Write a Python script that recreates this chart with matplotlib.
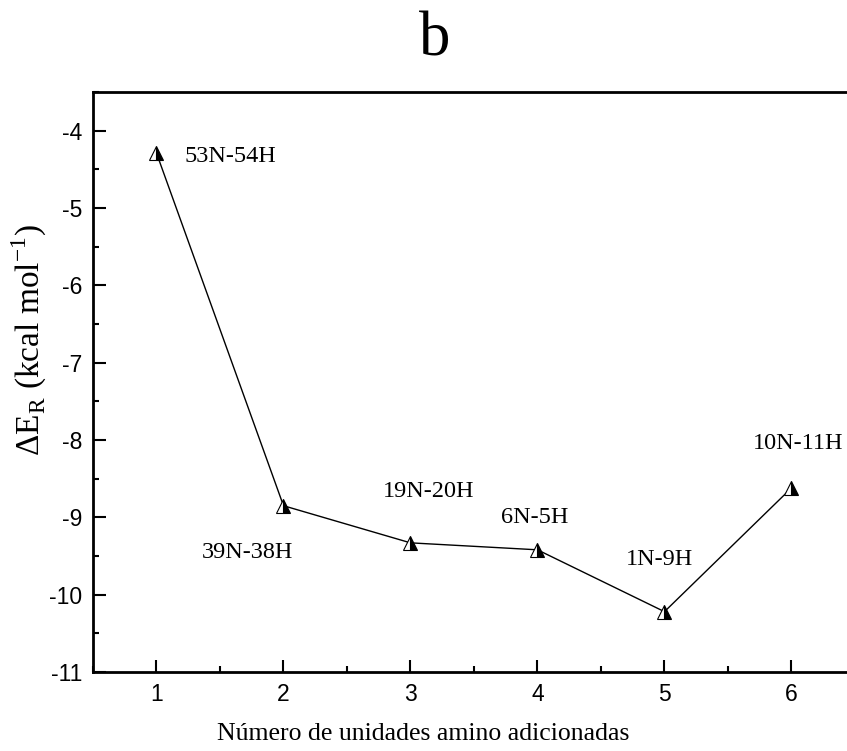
import matplotlib
matplotlib.use("Agg")
import matplotlib.pyplot as plt
from matplotlib.ticker import MultipleLocator

# Data
units = [1, 2, 3, 4, 5, 6]
energy = [-4.29, -8.85, -9.33, -9.42, -10.22, -8.62]
labels = ["53N-54H", "39N-38H", "19N-20H", "6N-5H", "1N-9H", "10N-11H"]
label_x = [1.58, 1.72, 3.14, 3.98, 4.96, 6.05]
label_y = [-4.34, -9.45, -8.66, -9.00, -9.55, -8.04]

plt.rcParams['mathtext.fontset'] = 'custom'
plt.rcParams['mathtext.rm'] = 'Liberation Serif'
plt.rcParams['axes.unicode_minus'] = False

fig = plt.figure(figsize=(8.47, 7.51), dpi=100)
ax = fig.add_axes([0.1098, 0.1052, 0.8996, 0.7723])

ax.plot(units, energy, color='black', lw=1.0, marker='^', markersize=10,
        fillstyle='right', markerfacecolor='black', markerfacecoloralt='white',
        markeredgecolor='black', markeredgewidth=0.8)

for x, y, t in zip(label_x, label_y, labels):
    ax.text(x, y, t, ha='center', va='center', fontsize=17.5,
            family='Liberation Serif')

ax.set_xlim(0.5, 6.5)
ax.set_ylim(-11, -3.5)
ax.xaxis.set_major_locator(MultipleLocator(1))
ax.xaxis.set_minor_locator(MultipleLocator(0.5))
ax.yaxis.set_major_locator(MultipleLocator(1))
ax.yaxis.set_minor_locator(MultipleLocator(0.5))

ax.tick_params(which='both', direction='in', top=False, right=False, width=1.5)
ax.tick_params(which='major', length=9, labelsize=16.5, pad=8)
ax.tick_params(which='minor', length=4.5)
for lab in ax.get_xticklabels() + ax.get_yticklabels():
    lab.set_family('Liberation Sans')

for s in ax.spines.values():
    s.set_linewidth(2)

ax.set_xlabel('Número de unidades amino adicionadas', fontsize=18.5,
              family='Liberation Serif')
ax.xaxis.set_label_coords(0.433, -0.088)
ax.set_ylabel(r'ΔE$_\mathregular{R}$ (kcal mol$^\mathregular{-1}$)', fontsize=24,
              family='Liberation Serif')
ax.yaxis.set_label_coords(-0.058, 0.572)

fig.text(435 / 847, 1 - 40 / 751, 'b', fontsize=45, family='Liberation Serif',
         ha='center', va='center')

fig.savefig('out.png', dpi=100)
